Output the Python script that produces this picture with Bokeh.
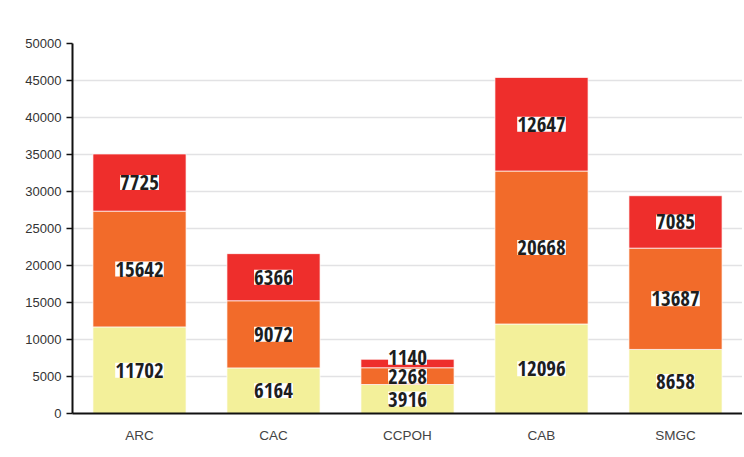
from bokeh.plotting import figure
from bokeh.models import ColumnDataSource, LabelSet, Range1d, FixedTicker
from bokeh.core.properties import value
from bokeh.embed import file_html
from bokeh.resources import INLINE

categories = ["ARC", "CAC", "CCPOH", "CAB", "SMGC"]
series_keys = ["low", "mid", "high"]
low = [11702, 6164, 3916, 12096, 8658]
mid = [15642, 9072, 2268, 20668, 13687]
high = [7725, 6366, 1140, 12647, 7085]
y_ticks = [0, 5000, 10000, 15000, 20000, 25000, 30000, 35000, 40000, 45000, 50000]
colors = ["#F3F09A", "#F26B2A", "#EE2E2C"]

Y_MAX = 50000
FRAME_H = 370
BOX_H = 19

p = figure(x_range=categories, y_range=Range1d(0, Y_MAX),
           width=742, height=455, output_backend="svg", toolbar_location=None,
           min_border_left=72, min_border_right=0, min_border_top=43, min_border_bottom=42)
p.outline_line_color = None

src = ColumnDataSource(dict(cat=categories, low=low, mid=mid, high=high))
p.vbar_stack(series_keys, x="cat", width=0.695, fill_color=colors,
             line_color="white", line_width=1, line_alpha=0.7, source=src)

# labels centred in each segment, nudged up when they would collide
series = [low, mid, high]
lx, ly, lt, loff = [], [], [], []
ppu = FRAME_H / Y_MAX
for i, c in enumerate(categories):
    base = 0
    prev_px = None
    for s in series:
        v = s[i]
        centre = base + v / 2
        px = centre * ppu
        off = 0
        if prev_px is not None and px - prev_px < BOX_H:
            off = prev_px + BOX_H - px
        prev_px = px + off
        lx.append(c)
        ly.append(centre)
        lt.append(str(v))
        loff.append(off)
        base += v

lsrc = ColumnDataSource(dict(x=lx, y=ly, t=lt, off=loff))
labels = LabelSet(x="x", y="y", text="t", y_offset="off", source=lsrc,
                  text_align="center", text_baseline="middle",
                  text_font=value("Open Sans Condensed"), text_font_style="bold",
                  text_font_size="21px", text_color="#1e1e1e",
                  background_fill_color="white")
p.add_layout(labels)

p.xgrid.grid_line_color = None
p.ygrid.grid_line_color = "#e2e2e4"
p.ygrid.grid_line_width = 1.5
p.ygrid.ticker = FixedTicker(ticks=y_ticks)

p.yaxis.ticker = FixedTicker(ticks=y_ticks)
p.yaxis.axis_line_color = "#111111"
p.yaxis.axis_line_width = 2
p.yaxis.major_tick_line_color = "#111111"
p.yaxis.major_tick_line_width = 1.5
p.yaxis.major_tick_out = 6
p.yaxis.major_tick_in = 0
p.yaxis.minor_tick_line_color = None
p.yaxis.major_label_standoff = 5
p.yaxis.major_label_text_font = "Liberation Sans"
p.yaxis.major_label_text_font_size = "13px"
p.yaxis.major_label_text_color = "#333333"

p.xaxis.axis_line_color = "#111111"
p.xaxis.axis_line_width = 2
p.xaxis.major_tick_line_color = None
p.xaxis.major_tick_out = 0
p.xaxis.major_tick_in = 0
p.xaxis.major_label_standoff = 14
p.xaxis.major_label_text_font = "Liberation Sans"
p.xaxis.major_label_text_font_size = "13.5px"
p.xaxis.major_label_text_color = "#444444"
p.x_range.range_padding = 0

open("out.html", "w").write(file_html(p, INLINE))
